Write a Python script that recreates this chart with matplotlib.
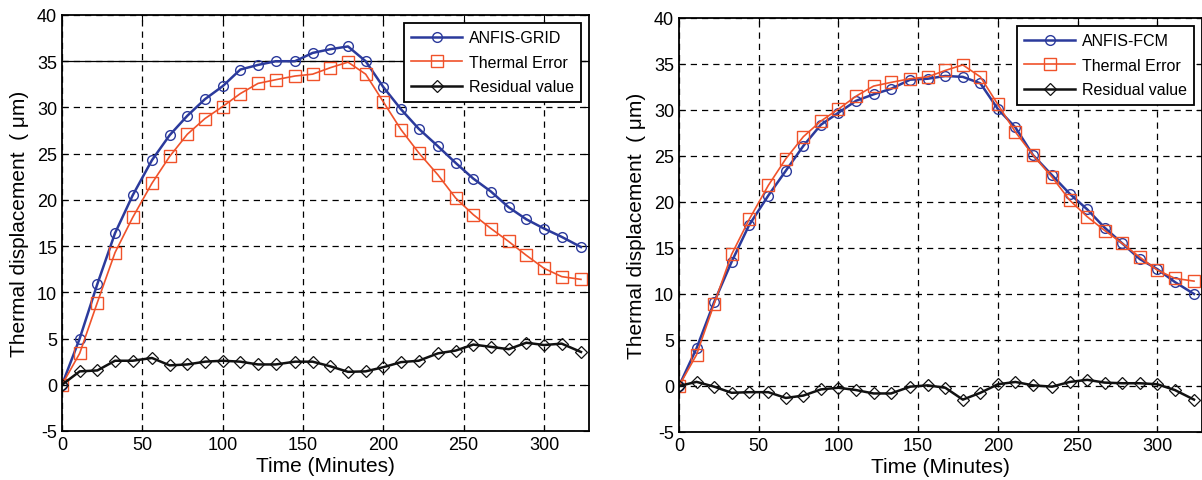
import matplotlib
matplotlib.use('Agg')
import matplotlib.pyplot as plt
import numpy as np

plt.rcParams['font.family'] = ['Liberation Sans', 'DejaVu Sans']
plt.rcParams['axes.unicode_minus'] = False

# sample times of the markers (minutes)
time = [0, 11, 22, 33, 44, 56, 67, 78, 89, 100, 111, 122, 133, 145, 156,
        167, 178, 189, 200, 211, 222, 234, 245, 256, 267, 278, 289, 300, 311, 323]

# measured thermal error (same in both panels)
thermal = [0, 3.4, 8.9, 14.3, 18.1, 21.8, 24.7, 27.1, 28.8, 30.1, 31.5, 32.6, 33.0, 33.4, 33.6,
           34.3, 34.9, 33.6, 30.6, 27.6, 25.1, 22.7, 20.2, 18.4, 16.9, 15.5, 14.0, 12.6, 11.7, 11.4]

# left panel: ANFIS-GRID prediction and residual
grid_pred = [0, 5.0, 10.9, 16.4, 20.5, 24.3, 27.0, 29.1, 30.9, 32.3, 34.1, 34.6, 35.0, 35.0, 35.9,
             36.3, 36.6, 35.0, 32.2, 29.8, 27.7, 25.8, 24.0, 22.3, 20.9, 19.2, 17.9, 16.9, 16.0, 14.9]
grid_res = [0, 1.45, 1.55, 2.6, 2.6, 2.9, 2.1, 2.2, 2.5, 2.6, 2.5, 2.2, 2.2, 2.5, 2.5,
            2.0, 1.4, 1.45, 1.9, 2.45, 2.6, 3.4, 3.7, 4.35, 4.1, 3.85, 4.55, 4.3, 4.45, 3.55]

# right panel: ANFIS-FCM prediction and residual
fcm_pred = [0, 4.1, 9.1, 13.5, 17.5, 20.7, 23.4, 26.1, 28.4, 29.7, 31.0, 31.7, 32.3, 33.3, 33.4,
            33.7, 33.6, 32.9, 30.1, 28.1, 25.1, 22.9, 20.9, 19.2, 17.2, 15.5, 13.8, 12.7, 11.3, 10.0]
fcm_res = [0, 0.45, -0.07, -0.74, -0.67, -0.67, -1.3, -1.04, -0.37, -0.19, -0.44, -0.81, -0.81, -0.07, 0.07,
           -0.19, -1.48, -0.74, 0.19, 0.44, 0.07, -0.07, 0.44, 0.67, 0.37, 0.3, 0.3, 0.19, -0.44, -1.48]

blue = '#2b3a9c'
orange = '#f0522a'

fig = plt.figure(figsize=(12.02, 4.81), dpi=100)
ax1 = fig.add_axes([62 / 1202, 1 - 432 / 481, 527 / 1202, 416 / 481])
ax2 = fig.add_axes([679 / 1202, 1 - 433 / 481, 523 / 1202, 414 / 481])


def draw(ax, pred, res, name):
    ax.plot(time, pred, '-', color=blue, lw=1.8, marker='o', ms=7, mfc='none', mew=1.0, label=name)
    ax.plot(time, thermal, '-', color=orange, lw=1.2, marker='s', ms=8, mfc='none', mew=1.0,
            label='Thermal Error')
    ax.plot(time, res, '-', color='#111111', lw=1.8, marker='D', ms=6.5, mfc='none', mew=0.9,
            label='Residual value')
    ax.set_xlim(0, 328)
    ax.set_ylim(-5, 40)
    ax.set_xticks(np.arange(0, 301, 50))
    ax.set_yticks(np.arange(-5, 41, 5))
    ax.grid(True, color='k', ls=(0, (5, 4)), lw=0.9)
    ax.tick_params(direction='in', top=True, right=True, labelsize=13, length=4)
    for s in ax.spines.values():
        s.set_linewidth(1.3)
    ax.set_xlabel('Time (Minutes)', fontsize=15, labelpad=2)
    ax.set_ylabel('Thermal displacement  ( \u03bcm)', fontsize=15, labelpad=6)
    leg = ax.legend(loc='upper right', fontsize=11.5, numpoints=1, handlelength=3.2,
                    fancybox=False, framealpha=1, edgecolor='k', borderpad=0.45,
                    labelspacing=0.6, handletextpad=0.4, borderaxespad=0.5)
    leg.get_frame().set_linewidth(1.3)


draw(ax1, grid_pred, grid_res, 'ANFIS-GRID')
ax1.axhline(35, color='k', lw=0.9, zorder=1)
draw(ax2, fcm_pred, fcm_res, 'ANFIS-FCM')

plt.savefig('out.png', dpi=100)
